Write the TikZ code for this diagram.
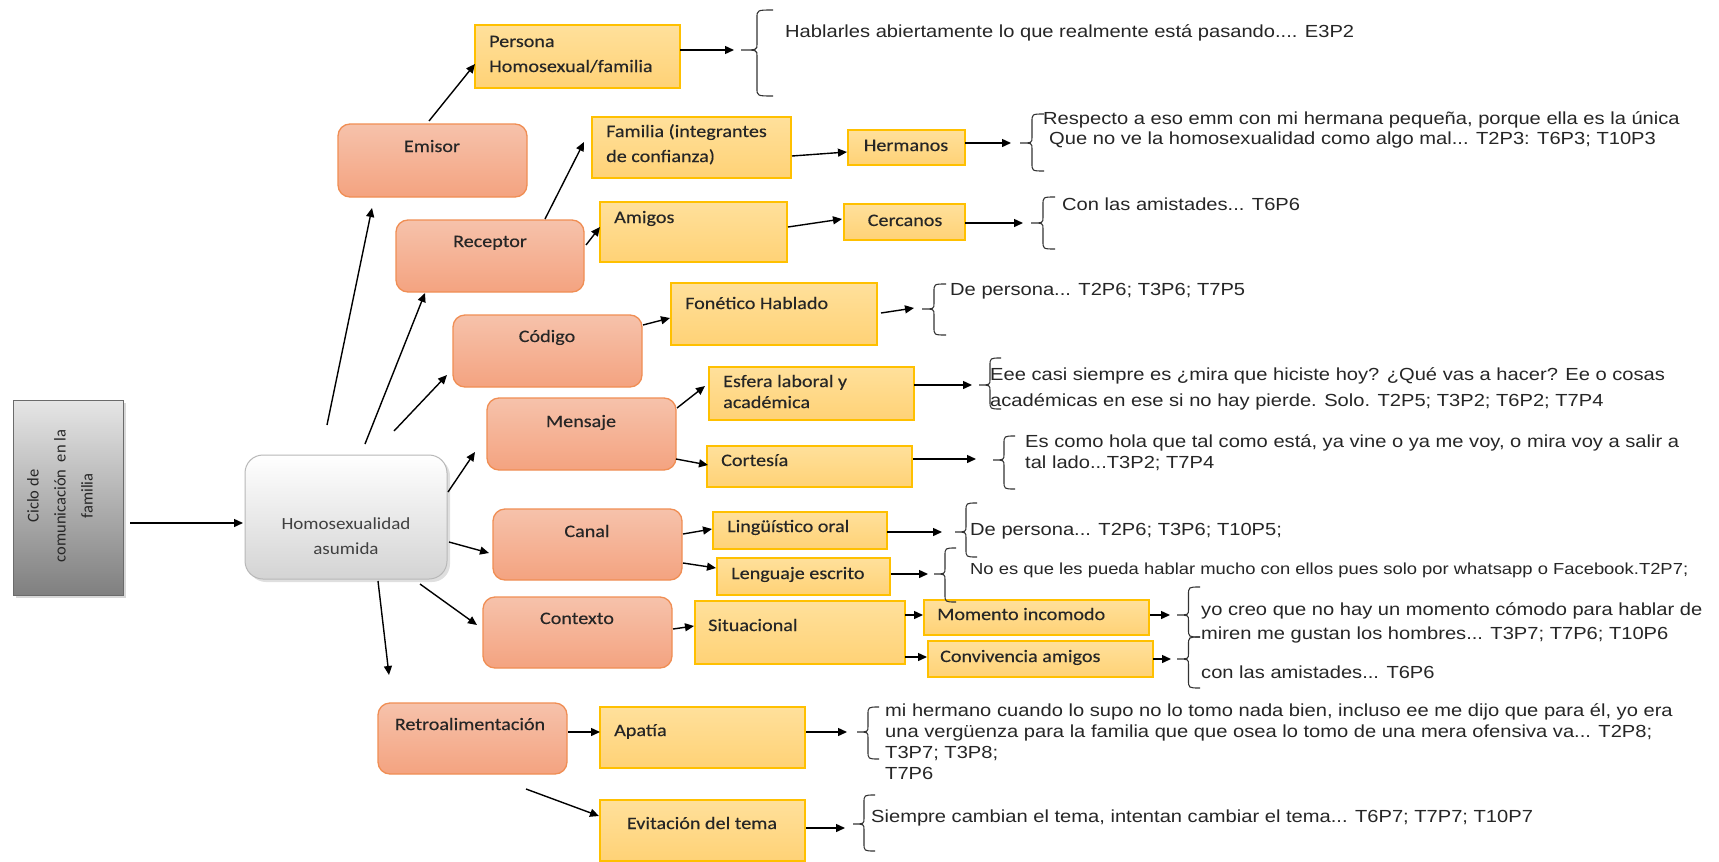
\documentclass[tikz,border=0pt]{standalone}
\usepackage{fontspec}
\setmainfont{Liberation Sans}[FakeStretch=1.15]
\newfontfamily\boxfont{Carlito}[FakeStretch=1.15,FakeBold=0.3]
\newfontfamily\ciclofont{Carlito}
\usetikzlibrary{arrows.meta,shadows}
\definecolor{orTop}{RGB}{246,194,171}
\definecolor{orBot}{RGB}{244,163,128}
\definecolor{orLine}{RGB}{240,142,84}
\definecolor{yeTop}{RGB}{255,224,155}
\definecolor{yeBot}{RGB}{255,210,118}
\definecolor{yeLine}{RGB}{255,192,0}
\definecolor{txt}{RGB}{38,38,38}
\tikzset{
  obox/.style={draw=orLine, line width=1.3pt, rounded corners=12pt, top color=orTop, bottom color=orBot, inner sep=0pt, outer sep=0pt},
  ybox/.style={draw=yeLine, line width=1.3pt, top color=yeTop, bottom color=yeBot, inner sep=0pt, outer sep=0pt},
  homobox/.style={draw=black!28, line width=1pt, rounded corners=18pt, top color=white, bottom color=black!17, inner sep=0pt, outer sep=0pt,
    drop shadow={shadow xshift=3pt, shadow yshift=-3pt, opacity=0.25}},
  ciclobox/.style={draw=black!58, line width=1pt, top color=black!10, bottom color=black!50, inner sep=0pt, outer sep=0pt,
    drop shadow={shadow xshift=3pt, shadow yshift=-3pt, opacity=0.3}},
  olab/.style={font=\boxfont\fontsize{17.5}{21}\selectfont, text=txt, inner sep=0pt, anchor=center, text height=12pt, text depth=4pt},
  ylab/.style={font=\boxfont\fontsize{17.5}{21}\selectfont, text=txt, inner sep=0pt, anchor=west, text height=12pt, text depth=4pt},
  rtext/.style={font=\fontsize{17.5}{21}\selectfont, text=txt, inner sep=0pt, anchor=west, text height=12.5pt, text depth=4pt},
  arr/.style={-{Triangle[length=9pt,width=8pt]}, line width=1.4pt, black},
  brc/.style={line width=1.1pt, black!80},
}
% box: style, name, x1, y1, x2, y2
\newcommand\bx[6]{\node[#1, minimum width={(#5-#3)*1pt}, minimum height={(#6-#4)*1pt}] (#2) at ({(#3+#5)/2},{(#4+#6)/2}) {};}
% arrow: name, start, end
\newcommand\arw[3]{\coordinate (#1s) at (#2); \coordinate (#1e) at (#3); \draw[arr] (#1s) -- (#1e);}
% left brace: tip x, top y, tip y, bottom y, width
\newcommand\lbrc[5]{\draw[brc] ({#1+#5},#2) .. controls ({#1+#5/2},#2) .. ({#1+#5/2},{#2+8}) -- ({#1+#5/2},{#3-6}) .. controls ({#1+#5/2},#3) .. (#1,#3) .. controls ({#1+#5/2},#3) .. ({#1+#5/2},{#3+6}) -- ({#1+#5/2},{#4-8}) .. controls ({#1+#5/2},#4) .. ({#1+#5},#4);}
\begin{document}
\begin{tikzpicture}[x=1pt,y=-1pt]
\useasboundingbox[fill=white] (0,0) rectangle (1719,862);

% ---- main boxes
\bx{ciclobox}{ciclo}{13}{400}{123}{595}
\node[rotate=90, align=center, inner sep=0pt, font=\ciclofont\fontsize{16.5}{27}\selectfont, text=black!85] (ciclo-t) at (60,496) {Ciclo de\\comunicación~ en la\\familia};
\bx{homobox}{homo}{245}{455}{447}{579}
\node[align=center, inner sep=0pt, font=\ciclofont\fontsize{17}{25}\selectfont\addfontfeature{FakeStretch=1.12}, text=black!75] (homo-t) at (346,536) {Homosexualidad\\asumida};

% ---- orange boxes
\bx{obox}{emisor}{338}{124}{527}{197}
\node[olab] (emisor-t) at (432,148) {Emisor};
\bx{obox}{receptor}{396}{220}{584}{292}
\node[olab] (receptor-t) at (490,243) {Receptor};
\bx{obox}{codigo}{453}{315}{642}{387}
\node[olab] (codigo-t) at (547,338) {Código};
\bx{obox}{mensaje}{487}{398}{676}{470}
\node[olab] (mensaje-t) at (581,423) {Mensaje};
\bx{obox}{canal}{493}{509}{682}{580}
\node[olab] (canal-t) at (587,533) {Canal};
\bx{obox}{contexto}{483}{597}{672}{668}
\node[olab] (contexto-t) at (577,620) {Contexto};
\bx{obox}{retro}{378}{703}{567}{774}
\node[olab] (retro-t) at (470,726) {Retroalimentación};

% ---- yellow boxes
\bx{ybox}{persona}{475}{25}{680}{88}
\node[ylab] (persona-t1) at (489,43) {Persona};
\node[ylab] (persona-t2) at (489,68) {Homosexual/familia};
\bx{ybox}{familia}{592}{117}{791}{178}
\node[ylab] (familia-t1) at (606,133) {Familia (integrantes};
\node[ylab] (familia-t2) at (606,158) {de confianza)};
\bx{ybox}{hermanos}{848}{130}{965}{165}
\node[olab] (hermanos-t) at (906,147) {Hermanos};
\bx{ybox}{amigos}{600}{202}{787}{262}
\node[ylab] (amigos-t) at (614,219) {Amigos};
\bx{ybox}{cercanos}{844}{204}{965}{240}
\node[olab] (cercanos-t) at (905,222) {Cercanos};
\bx{ybox}{fonetico}{671}{283}{877}{345}
\node[ylab] (fonetico-t) at (685,305) {Fonético Hablado};
\bx{ybox}{esfera}{709}{367}{914}{420}
\node[ylab] (esfera-t1) at (723,383) {Esfera laboral y};
\node[ylab] (esfera-t2) at (723,404) {académica};
\bx{ybox}{cortesia}{707}{446}{912}{487}
\node[ylab] (cortesia-t) at (721,462) {Cortesía};
\bx{ybox}{ling}{713}{512}{887}{549}
\node[ylab] (ling-t) at (727,528) {Lingüístico oral};
\bx{ybox}{leng}{717}{558}{890}{595}
\node[ylab] (leng-t) at (731,575) {Lenguaje escrito};
\bx{ybox}{situacional}{695}{601}{905}{664}
\node[ylab] (situacional-t) at (708,627) {Situacional};
\bx{ybox}{momento}{924}{600}{1149}{635}
\node[ylab] (momento-t) at (937,616) {Momento incomodo};
\bx{ybox}{convivencia}{928}{641}{1153}{677}
\node[ylab] (convivencia-t) at (940,658) {Convivencia amigos};
\bx{ybox}{apatia}{600}{707}{805}{768}
\node[ylab] (apatia-t) at (614,732) {Apatía};
\bx{ybox}{evitacion}{600}{800}{805}{861}
\node[olab] (evitacion-t) at (702,825) {Evitación del tema};

% ---- arrows
\arw{a1}{130,523}{243,523}
\arw{a2}{327,425}{372,208}
\arw{a3}{365,444}{425,293}
\arw{a4}{394,431}{447,375}
\arw{a5}{448,492}{475,452}
\arw{a6}{449,542}{489,553}
\arw{a7}{420,584}{477,625}
\arw{a8}{378,581}{389,675}
\arw{a9}{429,121}{475,64}
\arw{a10}{680,50}{734,50}
\arw{a11}{545,219}{584,142}
\arw{a12}{586,245}{600,227}
\arw{a13}{792,156}{847,152}
\arw{a14}{965,143}{1011,143}
\arw{a15}{788,227}{842,219}
\arw{a16}{965,223}{1023,223}
\arw{a17}{643,325}{670,318}
\arw{a18}{881,313}{914,308}
\arw{a19}{677,408}{705,386}
\arw{a20}{676,459}{708,465}
\arw{a21}{914,385}{972,385}
\arw{a22}{913,459}{976,459}
\arw{a23}{683,534}{712,529}
\arw{a24}{683,563}{716,568}
\arw{a25}{887,532}{942,532}
\arw{a26}{891,574}{928,574}
\arw{a27}{673,629}{694,626}
\arw{a28}{905,615}{923,615}
\arw{a29}{905,657}{927,657}
\arw{a30}{1150,615}{1170,615}
\arw{a31}{1153,659}{1171,659}
\arw{a32}{568,732}{600,732}
\arw{a33}{526,789}{599,816}
\arw{a34}{806,732}{847,732}
\arw{a35}{806,828}{845,828}

% ---- braces
\lbrc{741}{10}{50}{96}{32}
\lbrc{1020}{114}{143}{171}{24}
\lbrc{1031}{197}{223}{249}{24}
\lbrc{922}{284}{309}{335}{24}
\lbrc{979}{358}{385}{409}{22}
\lbrc{993}{436}{460}{489}{22}
\lbrc{955}{503}{532}{557}{22}
\lbrc{934}{548}{574}{602}{22}
\lbrc{1177}{587}{615}{637}{23}
\lbrc{1177}{637}{659}{688}{23}
\lbrc{857}{707}{732}{759}{22}
\lbrc{853}{795}{824}{851}{22}

% ---- texts
\node[rtext] (q1) at (785,33) {Hablarles abiertamente lo que realmente está pasando.... E3P2};
\node[rtext] (q2a) at (1043,120) {Respecto a eso emm con mi hermana pequeña, porque ella es la única};
\node[rtext] (q2b) at (1049,140) {Que no ve la homosexualidad como algo mal... T2P3: T6P3; T10P3};
\node[rtext] (q3) at (1062,206) {Con las amistades... T6P6};
\node[rtext] (q4) at (950,291) {De persona... T2P6; T3P6; T7P5};
\node[rtext] (q5a) at (990,376) {Eee casi siempre es ¿mira que hiciste hoy? ¿Qué vas a hacer? Ee o cosas};
\node[rtext] (q5b) at (990,402) {académicas en ese si no hay pierde. Solo. T2P5; T3P2; T6P2; T7P4};
\node[rtext] (q6a) at (1025,443) {Es como hola que tal como está, ya vine o ya me voy, o mira voy a salir a};
\node[rtext] (q6b) at (1025,464) {tal lado...T3P2; T7P4};
\node[rtext] (q7) at (970,531) {De persona... T2P6; T3P6; T10P5;};
\node[rtext, font=\fontsize{16}{20}\selectfont] (q8) at (970,570) {No es que les pueda hablar mucho con ellos pues solo por whatsapp o Facebook.T2P7;};
\node[rtext] (q9a) at (1201,611) {yo creo que no hay un momento cómodo para hablar de};
\node[rtext] (q9b) at (1201,635) {miren me gustan los hombres... T3P7; T7P6; T10P6};
\node[rtext] (q10) at (1201,674) {con las amistades... T6P6};
\node[rtext] (q11a) at (885,712) {mi hermano cuando lo supo no lo tomo nada bien, incluso ee me dijo que para él, yo era};
\node[rtext] (q11b) at (885,733) {una vergüenza para la familia que que osea lo tomo de una mera ofensiva va... T2P8;};
\node[rtext] (q11c) at (885,754) {T3P7; T3P8;};
\node[rtext] (q11d) at (885,775) {T7P6};
\node[rtext] (q12) at (871,818) {Siempre cambian el tema, intentan cambiar el tema... T6P7; T7P7; T10P7};
\end{tikzpicture}
\end{document}
